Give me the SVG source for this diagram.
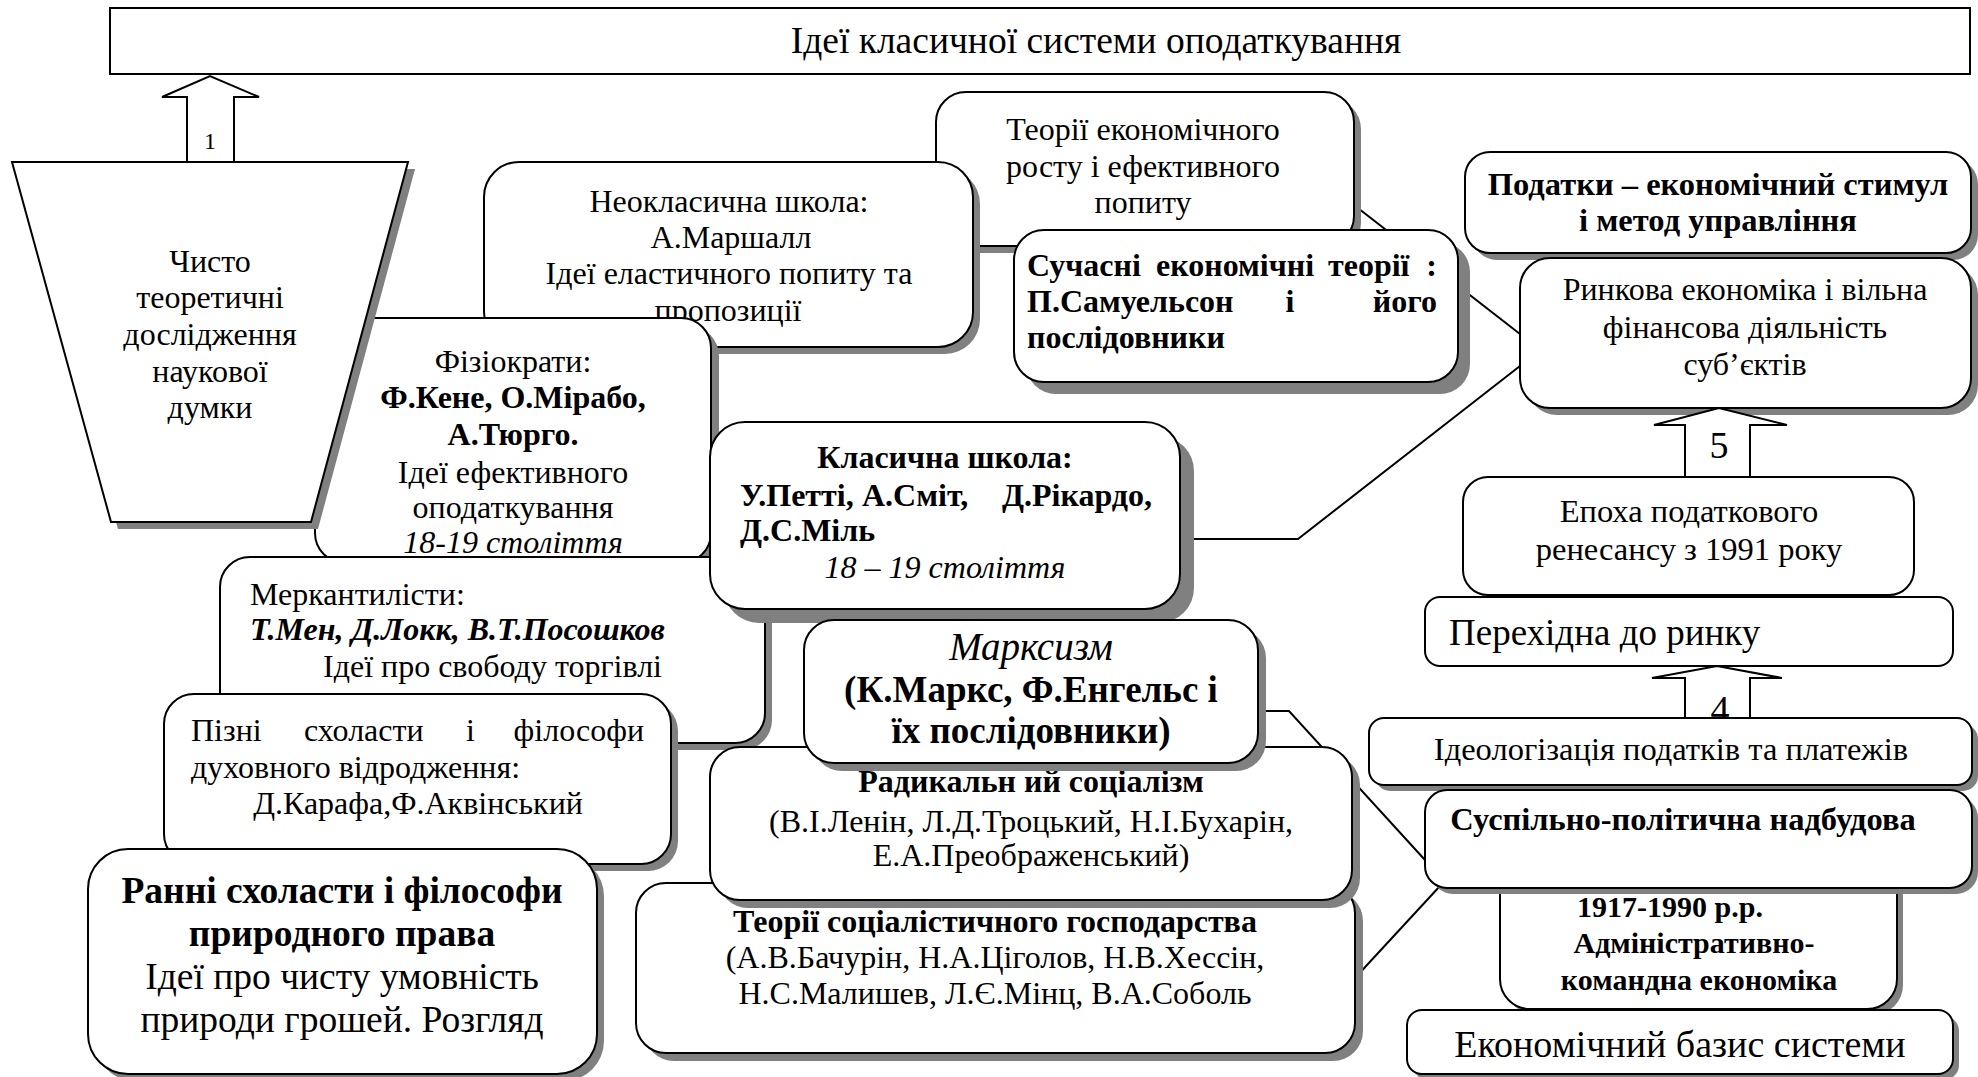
<svg xmlns="http://www.w3.org/2000/svg" width="1978" height="1077" viewBox="0 0 1978 1077">
<style>
.bx{fill:#fff;stroke:#000;stroke-width:2}
.sh{fill:#808080}
.ln{fill:none;stroke:#000;stroke-width:2}
.ar{fill:#fff;stroke:#000;stroke-width:2}
text{font-family:"Liberation Serif","Times New Roman",serif;font-size:32px;fill:#000}
.c{text-anchor:middle}
.e{text-anchor:end}
.b{font-weight:bold}
.i{font-style:italic}
</style>
<rect width="1978" height="1077" fill="#fff"/>
<g id="connectors">
<polyline class="ln" points="1354,205 1520,334"/>
<polyline class="ln" points="1180,539 1298,539 1520,366"/>
<polyline class="ln" points="1258,711 1289,711 1425,860"/>
<polyline class="ln" points="1355,978 1440,886"/>
</g>
<g id="title">
<rect class="bx" x="110" y="8" width="1860" height="66"/>
<text class="c" x="1096" y="53" style="font-size:37.5px">Ідеї класичної системи оподаткування</text>
</g>
<g id="arrow1">
<polygon class="ar" points="187,162 187,97 162,97 210,76 259,97 234,97 234,162"/>
<text class="c" x="210" y="149" style="font-size:24px">1</text>
</g>
<g id="teorii-rostu">
<rect class="sh" x="943" y="99" width="418" height="154" rx="30"/>
<rect class="bx" x="936" y="92" width="418" height="154" rx="30"/>
<text class="c" x="1143" y="140">Теорії економічного</text>
<text class="c" x="1143" y="177">росту і ефективного</text>
<text class="c" x="1143" y="213">попиту</text>
</g>
<g id="neoklasychna">
<rect class="sh" x="491" y="169" width="489" height="185" rx="35"/>
<rect class="bx" x="484" y="162" width="489" height="185" rx="35"/>
<text class="c" x="729" y="212">Неокласична школа:</text>
<text class="c" x="731" y="248">А.Маршалл</text>
<text class="c" x="729" y="284">Ідеї еластичного попиту  та</text>
<text class="c" x="728" y="321">пропозиції</text>
</g>
<g id="suchasni">
<rect class="sh" x="1026" y="242" width="444" height="152" rx="30"/>
<rect class="bx" x="1014" y="230" width="444" height="152" rx="30"/>
<text class="b" y="276"><tspan x="1027">Сучасні</tspan><tspan x="1156">економічні</tspan><tspan x="1328">теорії</tspan><tspan x="1437" class="e">:</tspan></text>
<text class="b" y="312"><tspan x="1027">П.Самуельсон</tspan><tspan x="1290" class="c">і</tspan><tspan x="1437" class="e">його</tspan></text>
<text class="b" x="1027" y="348">послідовники</text>
</g>
<g id="fiziokraty">
<rect class="sh" x="323" y="326" width="396" height="245" rx="30"/>
<rect class="bx" x="315" y="318" width="396" height="245" rx="30"/>
<text class="c" x="513" y="372">Фізіократи:</text>
<text class="c b" x="513" y="408">Ф.Кене, О.Мірабо,</text>
<text class="c b" x="513" y="445">А.Тюрго.</text>
<text class="c" x="513" y="483">Ідеї ефективного</text>
<text class="c" x="513" y="518">оподаткування</text>
<text class="c i" x="513" y="553">18-19 століття</text>
</g>
<g id="trapezoid">
<polygon class="sh" points="19,169 415,169 318,529 118,529"/>
<polygon class="bx" points="12,162 408,162 311,522 111,522"/>
<text class="c" x="210" y="272">Чисто</text>
<text class="c" x="210" y="308">теоретичні</text>
<text class="c" x="210" y="345">дослідження</text>
<text class="c" x="210" y="382">наукової</text>
<text class="c" x="210" y="418">думки</text>
</g>
<g id="merkantylisty">
<rect class="sh" x="227" y="564" width="545" height="186" rx="30"/>
<rect class="bx" x="220" y="557" width="545" height="186" rx="30"/>
<text x="250" y="605">Меркантилісти:</text>
<text class="b i" x="250" y="640">Т.Мен, Д.Локк, В.Т.Посошков</text>
<text class="e" x="662" y="677">Ідеї про свободу торгівлі</text>
</g>
<g id="klasychna">
<rect class="sh" x="724" y="436" width="470" height="187" rx="35"/>
<rect class="bx" x="710" y="422" width="470" height="187" rx="35"/>
<text class="c b" x="945" y="468">Класична школа:</text>
<text class="b" y="506"><tspan x="740">У.Петті,</tspan><tspan x="862">А.Сміт,</tspan><tspan x="1152" class="e">Д.Рікардо,</tspan></text>
<text class="b" x="740" y="541">Д.С.Міль</text>
<text class="c i" x="945" y="578">18 – 19 століття</text>
</g>
<g id="pizni">
<rect class="sh" x="171" y="701" width="507" height="170" rx="30"/>
<rect class="bx" x="164" y="694" width="507" height="170" rx="30"/>
<text y="741"><tspan x="191">Пізні</tspan><tspan x="304">схоласти</tspan><tspan x="466">і</tspan><tspan x="644" class="e">філософи</tspan></text>
<text x="191" y="778">духовного відродження:</text>
<text class="c" x="418" y="814">Д.Карафа,Ф.Аквінський</text>
</g>
<g id="ranni">
<rect class="sh" x="95" y="856" width="509" height="225" rx="40"/>
<rect class="bx" x="88" y="849" width="509" height="225" rx="40"/>
<text class="c b" x="342" y="903" style="font-size:37.5px">Ранні схоласти і філософи</text>
<text class="c b" x="342" y="946" style="font-size:37.5px">природного права</text>
<text class="c" x="342" y="989" style="font-size:37.5px">Ідеї про чисту умовність</text>
<text class="c" x="342" y="1032" style="font-size:37.5px">природи грошей. Розгляд</text>
</g>
<g id="teorii-sots">
<rect class="sh" x="644" y="891" width="719" height="170" rx="30"/>
<rect class="bx" x="636" y="883" width="719" height="170" rx="30"/>
<text class="c b" x="995" y="932">Теорії соціалістичного господарства</text>
<text class="c" x="995" y="968">(А.В.Бачурін, Н.А.Ціголов, Н.В.Хессін,</text>
<text class="c" x="995" y="1004">Н.С.Малишев, Л.Є.Мінц, В.А.Соболь</text>
</g>
<g id="radykalnyi">
<rect class="sh" x="718" y="755" width="642" height="153" rx="30"/>
<rect class="bx" x="710" y="747" width="642" height="153" rx="30"/>
<text class="c b" x="1031" y="792">Радикальн ий соціалізм</text>
<text class="c" x="1031" y="832">(В.І.Ленін, Л.Д.Троцький, Н.І.Бухарін,</text>
<text class="c" x="1031" y="866">Е.А.Преображенський)</text>
</g>
<g id="marksyzm">
<rect class="sh" x="812" y="628" width="454" height="143" rx="30"/>
<rect class="bx" x="804" y="620" width="454" height="143" rx="30"/>
<text class="c i" x="1031" y="660" style="font-size:39px">Марксизм</text>
<text class="c b" x="1031" y="702" style="font-size:37px">(К.Маркс, Ф.Енгельс і</text>
<text class="c b" x="1031" y="743" style="font-size:37px">їх послідовники)</text>
</g>
<g id="podatky">
<rect class="sh" x="1472" y="159" width="506" height="101" rx="25"/>
<rect class="bx" x="1465" y="152" width="506" height="101" rx="25"/>
<text class="c b" x="1718" y="195" style="font-size:32.5px">Податки – економічний стимул</text>
<text class="c b" x="1718" y="231" style="font-size:32.5px">і метод управління</text>
</g>
<g id="rynkova">
<rect class="sh" x="1527" y="265" width="451" height="150" rx="30"/>
<rect class="bx" x="1520" y="258" width="451" height="150" rx="30"/>
<text class="c" x="1745" y="300">Ринкова економіка і вільна</text>
<text class="c" x="1745" y="338">фінансова діяльність</text>
<text class="c" x="1745" y="375">суб’єктів</text>
</g>
<g id="arrow5">
<polygon class="ar" points="1685,477 1685,425 1654,425 1719,408 1787,425 1750,425 1750,477"/>
<text class="c" x="1719" y="458" style="font-size:38px">5</text>
</g>
<g id="epokha">
<rect class="bx" x="1463" y="477" width="451" height="118" rx="25"/>
<text class="c" x="1689" y="522" style="font-size:32.5px">Епоха податкового</text>
<text class="c" x="1689" y="560" style="font-size:32.5px">ренесансу з 1991 року</text>
</g>
<g id="perekhidna">
<rect class="bx" x="1425" y="597" width="528" height="69" rx="15"/>
<text x="1449" y="645" style="font-size:37px">Перехідна до ринку</text>
</g>
<g id="arrow4">
<polygon class="ar" points="1685,718 1685,678 1652,678 1717,666 1782,678 1750,678 1750,718"/>
<text class="c" x="1720" y="722" style="font-size:38px">4</text>
</g>
<g id="ideologizatsiia">
<rect class="sh" x="1375" y="724" width="603" height="67" rx="15"/>
<rect class="bx" x="1369" y="718" width="603" height="67" rx="15"/>
<text class="c" x="1671" y="760" style="font-size:32.5px">Ідеологізація податків та платежів</text>
</g>
<g id="rik-1917">
<rect class="sh" x="1506" y="866" width="397" height="149" rx="30"/>
<rect class="bx" x="1500" y="860" width="397" height="149" rx="30"/>
<text class="c b" x="1670" y="917" style="font-size:30px">1917-1990 р.р.</text>
<text class="c b" x="1694" y="953" style="font-size:30px">Адміністративно-</text>
<text class="c b" x="1699" y="990" style="font-size:30px">командна економіка</text>
</g>
<g id="suspilno">
<rect class="sh" x="1431" y="796" width="547" height="98" rx="22"/>
<rect class="bx" x="1425" y="790" width="547" height="98" rx="22"/>
<text class="c b" x="1683" y="830" style="font-size:32.5px">Суспільно-політична надбудова</text>
</g>
<g id="bazys">
<rect class="sh" x="1413" y="1016" width="546" height="64" rx="15"/>
<rect class="bx" x="1407" y="1010" width="546" height="64" rx="15"/>
<text class="c" x="1680" y="1057" style="font-size:38px">Економічний базис системи</text>
</g>
</svg>
